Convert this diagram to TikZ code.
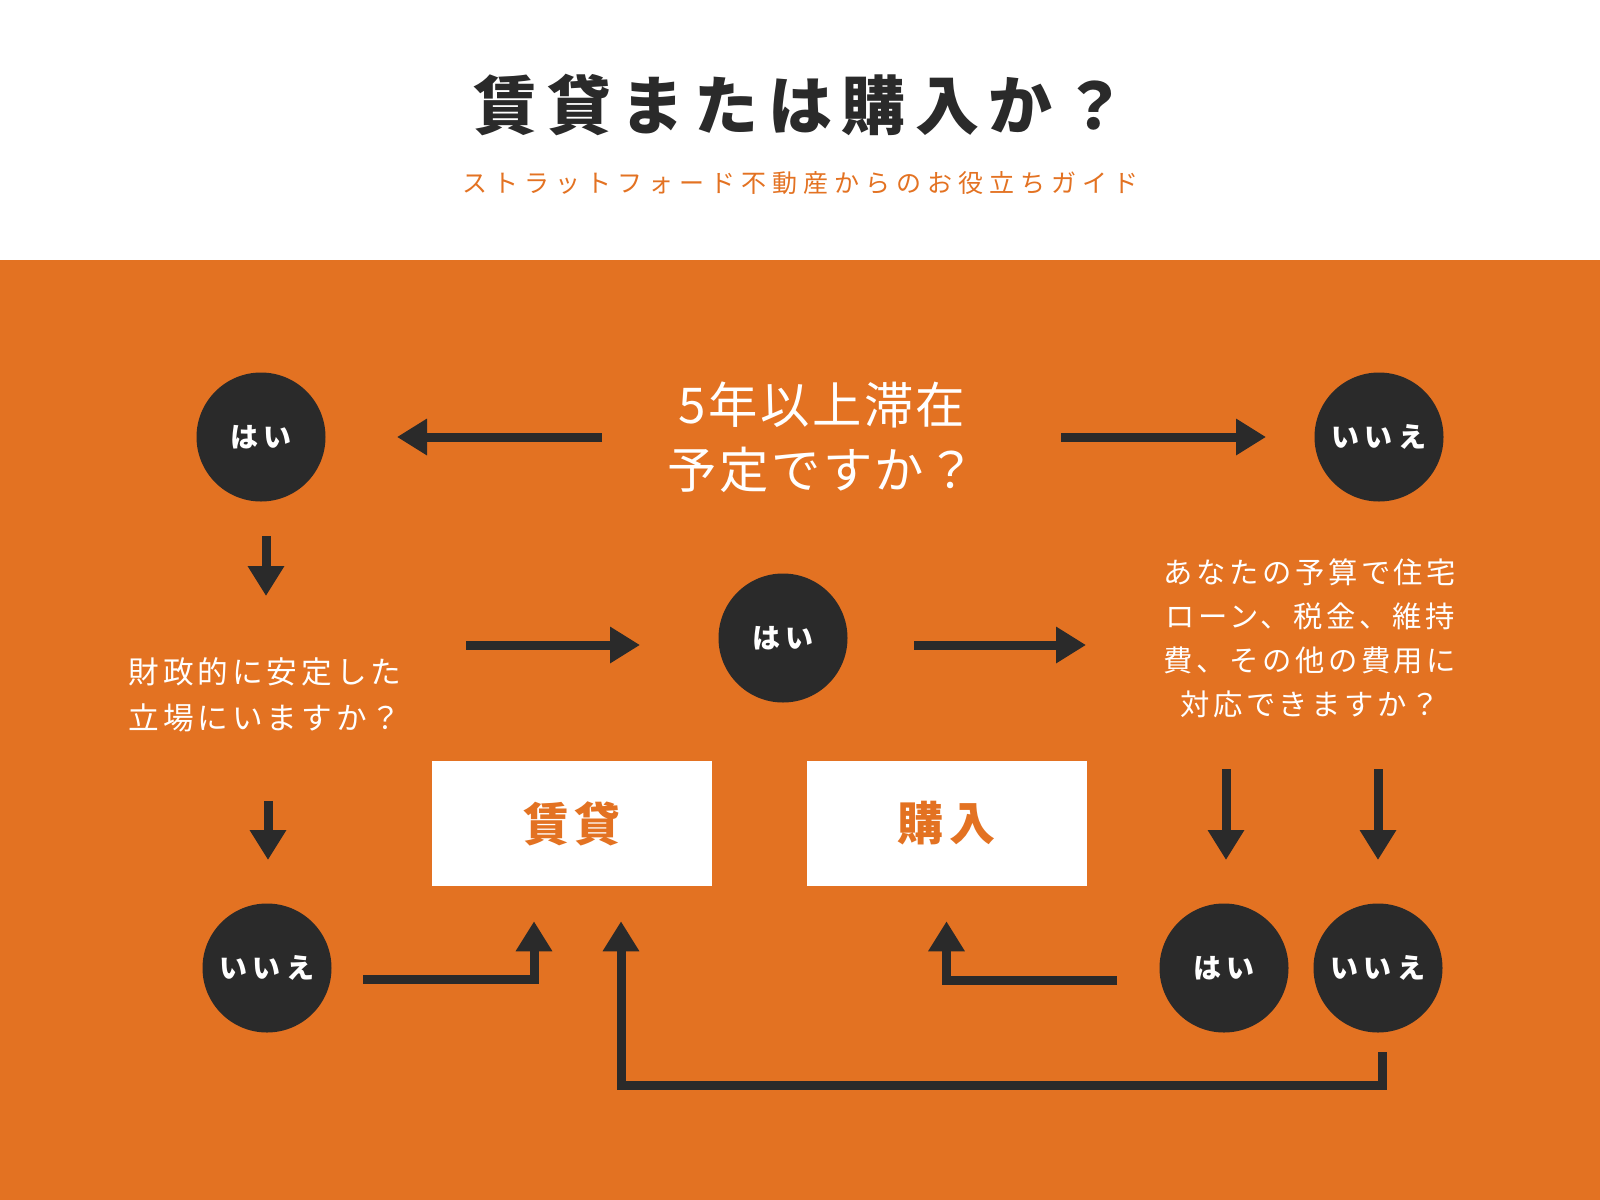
\documentclass[tikz,border=0pt]{standalone}
\usepackage{fontspec}
\newfontfamily\jpfont{Noto Sans CJK JP}
\usetikzlibrary{arrows.meta}

\definecolor{bgorange}{HTML}{E37222}
\definecolor{inkdark}{HTML}{2A2A2A}

\begin{document}
\begin{tikzpicture}[x=0.75pt,y=-0.75pt]
	% header and orange panel
	\fill[white] (0,0) rectangle (1600,260);
	\fill[bgorange] (0,260) rectangle (1600,1200);
	\useasboundingbox (0,0) rectangle (1600,1200);

	\node[text=inkdark,font=\jpfont\bfseries\fontsize{48pt}{58pt}\selectfont\addfontfeatures{LetterSpace=15}] (title) at (800,105) {賃貸または購入か？};
	\node[text=bgorange,font=\jpfont\fontsize{18.75pt}{22pt}\selectfont\addfontfeatures{LetterSpace=24}] (subtitle) at (800,183) {ストラットフォード不動産からのお役立ちガイド};

	% answers
	\begin{scope}[every node/.style={circle, fill=inkdark, text=white, inner sep=0pt, minimum size=96.75pt,
	              font=\jpfont\bfseries\fontsize{21pt}{25pt}\selectfont\addfontfeatures{LetterSpace=20}}]
		\node (yes1) at (261,437) {はい};
		\node (no1) at (1379,437) {いいえ};
		\node (yes2) at (783,638) {はい};
		\node (no2) at (267,968) {いいえ};
		\node (yes3) at (1224,968) {はい};
		\node (no3) at (1378,968) {いいえ};
	\end{scope}

	% questions
	\begin{scope}[every node/.style={text=white, align=center,
	              font=\jpfont\fontsize{23pt}{34pt}\selectfont\addfontfeatures{LetterSpace=13}}]
		\node[font=\jpfont\fontsize{37pt}{49pt}\selectfont\addfontfeatures{LetterSpace=5}] (q1) at (822,437) {5年以上滞在\\予定ですか？};
		\node (q2) at (265,695) {財政的に安定した\\立場にいますか？};
		\node[font=\jpfont\fontsize{22pt}{33pt}\selectfont\addfontfeatures{LetterSpace=12}] (q3) at (1310,638) {あなたの予算で住宅\\ローン、税金、維持\\費、その他の費用に\\対応できますか？};
	\end{scope}

	% results
	\begin{scope}[every node/.style={fill=white, text=bgorange, minimum width=210pt, minimum height=93.75pt,
	              font=\jpfont\bfseries\fontsize{34.5pt}{40pt}\selectfont\addfontfeatures{LetterSpace=12}}]
		\node (rent) at (572,823.5) {賃貸};
		\node (buy) at (946.5,823.5) {購入};
	\end{scope}

	\begin{scope}[inkdark, line width=6.75pt, ->, >={Triangle[length=22.5pt,width=26pt]}]
		\draw ([shift={(-220,0)}]q1.center) -- ([shift={(136,0)}]yes1.center);
		\draw ([shift={(239,0)}]q1.center) -- ([shift={(-113,0)}]no1.center);
		\draw ([shift={(5,99)}]yes1.center) -- ([shift={(1,-99)}]q2.center);
		\draw ([shift={(201,-50)}]q2.center) -- ([shift={(-143,7)}]yes2.center);
		\draw ([shift={(131,7)}]yes2.center) -- ([shift={(-224,7)}]q3.center);
		\draw ([shift={(3,106)}]q2.center) -- ([shift={(1,-108)}]no2.center);
		\draw ([shift={(-84,131)}]q3.center) -- ([shift={(2,-108)}]yes3.center);
		\draw ([shift={(68,131)}]q3.center) -- ([shift={(0,-108)}]no3.center);
		\draw ([shift={(96,11)}]no2.center) -| ([shift={(-38,35)}]rent.south);
		\draw ([shift={(-107,12)}]yes3.center) -| ([shift={(0,35)}]buy.south);
		\draw ([shift={(4,84)}]no3.center) -- ++(0,33) -| ([shift={(49,35)}]rent.south);
	\end{scope}
\end{tikzpicture}
\end{document}
